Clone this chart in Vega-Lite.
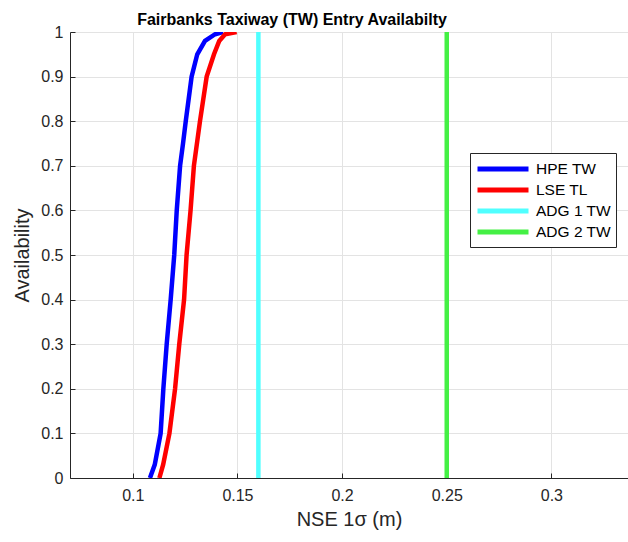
{
  "$schema": "https://vega.github.io/schema/vega-lite/v6.json",
  "autosize": "none",
  "width": 558,
  "height": 446,
  "padding": {"left": 70, "top": 32, "right": 0, "bottom": 64},
  "background": "white",
  "config": {
    "font": "Liberation Sans",
    "view": {"stroke": null},
    "axis": {
      "domainColor": "#262626",
      "tickColor": "#262626",
      "labelColor": "#262626",
      "titleColor": "#262626",
      "gridColor": "#e3e3e3",
      "labelFont": "Liberation Sans",
      "titleFont": "Liberation Sans",
      "labelFontSize": 16,
      "titleFontSize": 20,
      "titleFontWeight": "normal",
      "tickSize": -5
    }
  },
  "title": {
    "text": "Fairbanks Taxiway (TW) Entry Availabilty",
    "fontSize": 16,
    "fontWeight": "bold",
    "font": "Liberation Sans",
    "color": "#000000",
    "anchor": "middle",
    "dx": -57,
    "offset": -4
  },
  "datasets": {
    "cdf": [
      {"series": "HPE TW", "nse": 0.1082, "avail": 0},
      {"series": "HPE TW", "nse": 0.1105, "avail": 0.03},
      {"series": "HPE TW", "nse": 0.1133, "avail": 0.1},
      {"series": "HPE TW", "nse": 0.1146, "avail": 0.2},
      {"series": "HPE TW", "nse": 0.1162, "avail": 0.3},
      {"series": "HPE TW", "nse": 0.1181, "avail": 0.4},
      {"series": "HPE TW", "nse": 0.1198, "avail": 0.5},
      {"series": "HPE TW", "nse": 0.1210, "avail": 0.6},
      {"series": "HPE TW", "nse": 0.1226, "avail": 0.7},
      {"series": "HPE TW", "nse": 0.1240, "avail": 0.75},
      {"series": "HPE TW", "nse": 0.1253, "avail": 0.8},
      {"series": "HPE TW", "nse": 0.1281, "avail": 0.9},
      {"series": "HPE TW", "nse": 0.1308, "avail": 0.95},
      {"series": "HPE TW", "nse": 0.1345, "avail": 0.98},
      {"series": "HPE TW", "nse": 0.1393, "avail": 0.995},
      {"series": "HPE TW", "nse": 0.1431, "avail": 1},
      {"series": "LSE TL", "nse": 0.1127, "avail": 0},
      {"series": "LSE TL", "nse": 0.1145, "avail": 0.03},
      {"series": "LSE TL", "nse": 0.1175, "avail": 0.1},
      {"series": "LSE TL", "nse": 0.1202, "avail": 0.2},
      {"series": "LSE TL", "nse": 0.1222, "avail": 0.3},
      {"series": "LSE TL", "nse": 0.1245, "avail": 0.4},
      {"series": "LSE TL", "nse": 0.1257, "avail": 0.5},
      {"series": "LSE TL", "nse": 0.1276, "avail": 0.6},
      {"series": "LSE TL", "nse": 0.1292, "avail": 0.7},
      {"series": "LSE TL", "nse": 0.1321, "avail": 0.8},
      {"series": "LSE TL", "nse": 0.1353, "avail": 0.9},
      {"series": "LSE TL", "nse": 0.1388, "avail": 0.95},
      {"series": "LSE TL", "nse": 0.1413, "avail": 0.98},
      {"series": "LSE TL", "nse": 0.1441, "avail": 0.995},
      {"series": "LSE TL", "nse": 0.1496, "avail": 1}
    ],
    "adg": [
      {"series": "ADG 1 TW", "nse": 0.16},
      {"series": "ADG 2 TW", "nse": 0.25}
    ]
  },
  "layer": [
    {
      "data": {"name": "cdf"},
      "mark": {"type": "line", "strokeWidth": 4.5, "clip": true},
      "encoding": {
        "x": {
          "field": "nse", "type": "quantitative",
          "scale": {"domain": [0.07, 0.3366], "nice": false, "zero": false},
          "axis": {"title": "NSE 1σ (m)", "values": [0.1, 0.15, 0.2, 0.25, 0.3], "format": "~g", "labelPadding": 14, "titlePadding": 6}
        },
        "y": {
          "field": "avail", "type": "quantitative",
          "scale": {"domain": [0, 1], "nice": false},
          "axis": {"title": "Availability", "values": [0, 0.1, 0.2, 0.3, 0.4, 0.5, 0.6, 0.7, 0.8, 0.9, 1], "format": "~g", "labelPadding": 12, "titlePadding": 8}
        },
        "order": {"field": "avail", "type": "quantitative"},
        "color": {
          "field": "series", "type": "nominal",
          "scale": {"domain": ["HPE TW", "LSE TL", "ADG 1 TW", "ADG 2 TW"], "range": ["#0000ff", "#ff0000", "#50ffff", "#44f044"]},
          "legend": {
            "title": null,
            "orient": "none",
            "legendX": 400,
            "legendY": 121,
            "symbolType": "M-1,0H5",
            "symbolSize": 289,
            "symbolStrokeWidth": 5,
            "labelFontSize": 15.5,
            "labelColor": "#000000",
            "labelFont": "Liberation Sans",
            "strokeColor": "#262626",
            "fillColor": "white",
            "padding": 5,
            "rowPadding": 0,
            "labelOffset": 39
          }
        }
      }
    },
    {
      "data": {"name": "adg"},
      "mark": {"type": "rule", "strokeWidth": 4.5},
      "encoding": {
        "x": {"field": "nse", "type": "quantitative"},
        "color": {"field": "series", "type": "nominal"}
      }
    }
  ]
}
